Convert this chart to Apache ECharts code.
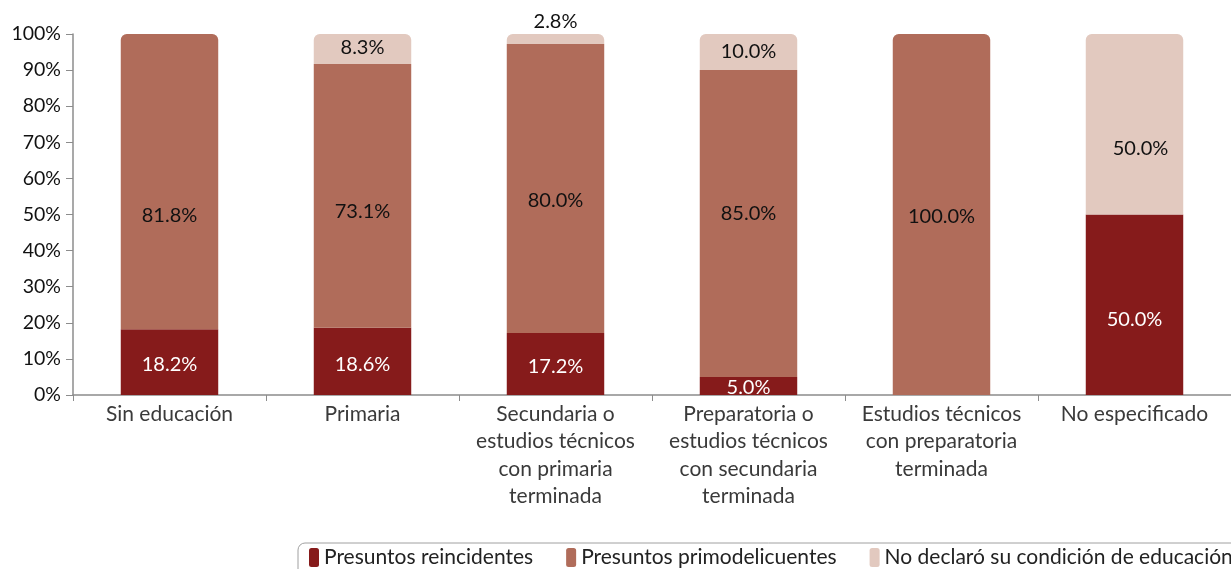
<!DOCTYPE html>
<html>
<head>
<meta charset="utf-8">
<script src="https://cdn.jsdelivr.net/npm/echarts@6/dist/echarts.min.js"></script>
<style>
html,body{margin:0;padding:0;background:#fff;}
#chart{width:1231px;height:569px;}
</style>
</head>
<body>
<div id="chart"></div>
<script>
const categories = [
  "Sin educación",
  "Primaria",
  "Secundaria o\nestudios técnicos\ncon primaria\nterminada",
  "Preparatoria o\nestudios técnicos\ncon secundaria\nterminada",
  "Estudios técnicos\ncon preparatoria\nterminada",
  "No especificado"
];
const seriesNames = ["Presuntos reincidentes", "Presuntos primodelicuentes", "No declaró su condición de educación"];
const reincidentes = [18.2, 18.6, 17.2, 5.0, 0, 50.0];
const primodelicuentes = [81.8, 73.1, 80.0, 85.0, 100.0, 0];
const noDeclaro = [0, 8.3, 2.8, 10.0, 0, 50.0];
const yTicks = [0, 10, 20, 30, 40, 50, 60, 70, 80, 90, 100];

// label placement tweaks (pixels), per series per category: [dx, dy]
const labelShift = [
  [[0, 2], [0, 3], [0, 3], [0, 0], [0, 0], [0, 15]],
  [[0, 34], [0, 16], [0, 12], [0, -10], [0, 2], [0, 0]],
  [[0, 0], [0, -1], [0, 0], [0, -1], [0, 0], [6, 24]]
];

const colors = ["#861b1b", "#b06c5a", "#e2c9bf"];
const labelColors = ["#ffffff", "#111111", "#111111"];
const FONT = "Lato";
const allSeries = [reincidentes, primodelicuentes, noDeclaro];

const topIndex = categories.map((c, i) => {
  let t = -1;
  allSeries.forEach((s, k) => { if (s[i] > 0) t = k; });
  return t;
});

const series = allSeries.map((vals, k) => ({
  name: seriesNames[k],
  type: "bar",
  stack: "total",
  barWidth: "50.5%",
  itemStyle: { color: colors[k] },
  data: vals.map((v, i) => {
    if (!v) return "-";
    const d = {
      value: v,
      itemStyle: { borderRadius: topIndex[i] === k ? [6, 6, 0, 0] : 0 },
      label: { offset: labelShift[k][i] }
    };
    if (k === 2 && v < 5) {
      d.label = { position: "top", distance: 2, offset: [0, 0] };
    }
    if (k === 0 && v < 8) {
      d.label = { position: "insideBottom", distance: -3, offset: [0, 0] };
    }
    return d;
  }),
  label: {
    show: true,
    position: "inside",
    color: labelColors[k],
    fontFamily: FONT,
    fontSize: 20,
    formatter: p => p.value.toFixed(1) + "%"
  }
}));

const chart = echarts.init(document.getElementById("chart"), null, { renderer: "canvas" });
chart.setOption({
  animation: false,
  textStyle: { fontFamily: FONT },
  grid: { left: 73, right: -6, top: 34, bottom: 174 },
  legend: {
    data: seriesNames,
    left: 298,
    top: 543,
    width: 1200,
    padding: [4, 30, 10, 11],
    itemGap: 33,
    itemWidth: 10,
    itemHeight: 19,
    icon: "roundRect",
    borderColor: "#a0a0a0",
    borderWidth: 1,
    borderRadius: 7,
    textStyle: { fontFamily: FONT, fontSize: 21, color: "#222", padding: [0, 0, 0, 0] }
  },
  xAxis: {
    type: "category",
    data: categories,
    axisLine: { lineStyle: { color: "#8c8c8c", width: 1.5 } },
    axisTick: { show: true, length: 6, lineStyle: { color: "#8c8c8c" } },
    axisLabel: { fontFamily: FONT, fontSize: 21, color: "#3a3a3a", lineHeight: 27.5, margin: 5, interval: 0 }
  },
  yAxis: {
    type: "value",
    min: 0,
    max: 100,
    interval: 10,
    axisLine: { show: true, lineStyle: { color: "#8c8c8c", width: 1.5 } },
    axisTick: { show: true, length: 7, lineStyle: { color: "#8c8c8c" } },
    splitLine: { show: false },
    axisLabel: {
      fontFamily: FONT, fontSize: 19.5, color: "#111", margin: 12,
      formatter: v => yTicks.includes(v) ? v + "%" : ""
    }
  },
  series: series
});
</script>
</body>
</html>
